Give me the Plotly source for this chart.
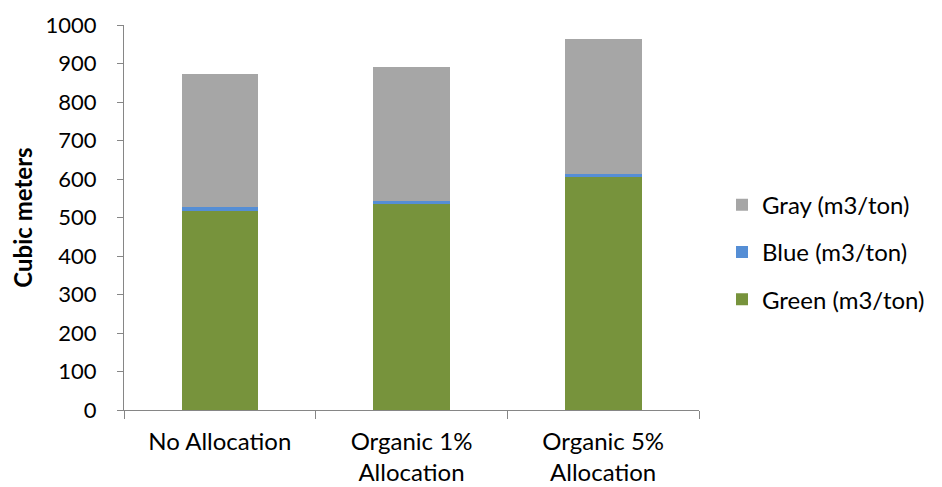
import plotly.graph_objects as go

categories = ["No Allocation", "Organic 1%<br>Allocation", "Organic 5%<br>Allocation"]
green = [518, 535, 604]
blue = [8, 8, 10]
gray = [347, 348, 350]
y_ticks = [0, 100, 200, 300, 400, 500, 600, 700, 800, 900, 1000]

FONT = "Lato"
fig = go.Figure()
fig.add_trace(go.Bar(x=categories, y=green, name="Green (m3/ton)", marker_color="#77933C",
                     marker_line_width=0, legendgroup="g", legendrank=3))
fig.add_trace(go.Bar(x=categories, y=blue, name="Blue (m3/ton)", marker_color="#558ED5",
                     marker_line_width=0, legendgroup="b", legendrank=2))
fig.add_trace(go.Bar(x=categories, y=gray, name="Gray (m3/ton)", marker_color="#A6A6A6",
                     marker_line_width=0, legendgroup="gr", legendrank=1))

fig.update_layout(
    barmode="stack",
    bargap=0.6,
    width=934, height=479,
    margin=dict(l=116, r=230, t=17, b=77),
    plot_bgcolor="white", paper_bgcolor="white",
    font=dict(family=FONT, size=22, color="#000000"),
    legend=dict(x=1.04, xanchor="left", y=0.41, yanchor="middle",
                traceorder="grouped", tracegroupgap=13,
                font=dict(size=24, family=FONT)),
    xaxis=dict(showline=True, linecolor="#868686", linewidth=1,
               ticks="outside", tickson="boundaries", ticklen=8, tickcolor="#868686",
               showgrid=False, tickfont=dict(size=24), automargin=False,
               ticklabelstandoff=10),
    yaxis=dict(range=[0, 1000], tickvals=y_ticks, showline=True, linecolor="#868686",
               linewidth=1, ticks="outside", ticklen=6, tickcolor="#868686",
               showgrid=False, zeroline=False, tickfont=dict(size=22), automargin=False,
               ticklabelstandoff=16,
               title=dict(text="<b>Cubic meters</b>", font=dict(size=24), standoff=11)),
)
fig.write_html("out.html")
